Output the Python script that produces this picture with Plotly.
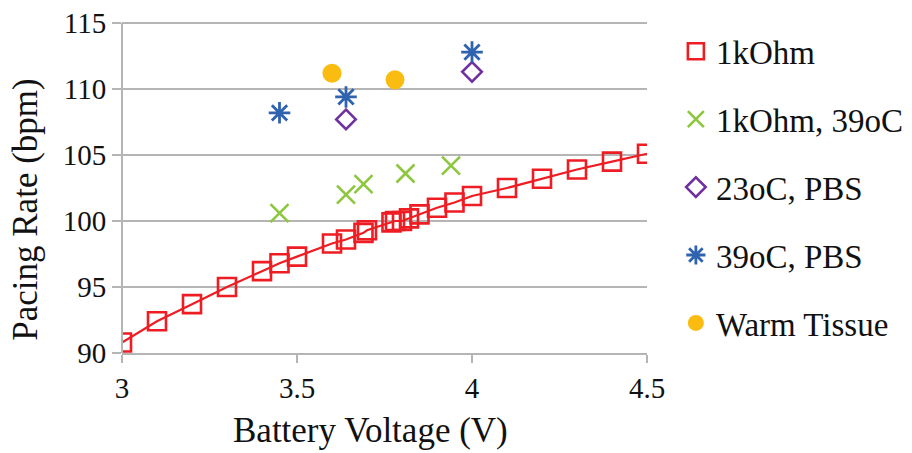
import plotly.graph_objects as go

# 1kOhm (red squares with line)
v_1k = [3.0, 3.1, 3.2, 3.3, 3.4, 3.45, 3.5, 3.6, 3.64, 3.69, 3.7, 3.77, 3.78, 3.8, 3.82, 3.85, 3.9, 3.95, 4.0, 4.1, 4.2, 4.3, 4.4, 4.5]
r_1k = [90.8, 92.4, 93.7, 95.0, 96.2, 96.8, 97.3, 98.3, 98.6, 99.1, 99.3, 99.9, 100.0, 100.0, 100.2, 100.5, 101.0, 101.4, 101.9, 102.5, 103.2, 103.9, 104.5, 105.1]

# 1kOhm, 39oC (green x)
v_1k39 = [3.45, 3.64, 3.69, 3.81, 3.94]
r_1k39 = [100.6, 102.0, 102.8, 103.6, 104.2]

# 23oC, PBS (purple diamonds)
v_23pbs = [3.64, 4.0]
r_23pbs = [107.7, 111.3]

# 39oC, PBS (blue asterisks)
v_39pbs = [3.45, 3.64, 4.0]
r_39pbs = [108.2, 109.4, 112.8]

# Warm Tissue (orange circles)
v_warm = [3.6, 3.78]
r_warm = [111.2, 110.7]

x_ticks = [3, 3.5, 4, 4.5]
y_ticks = [90, 95, 100, 105, 110, 115]

x_title = "Battery Voltage (V)"
y_title = "Pacing Rate (bpm)"

FONT = "'Liberation Serif', 'Times New Roman', 'DejaVu Serif', serif"
RED = "#EE1D23"
GREEN = "#8DC63F"
PURPLE = "#7030A0"
BLUE = "#2F63B0"
GOLD = "#FBBC12"
GRID = "#B5B5B5"
TXT = "#111111"

fig = go.Figure()

fig.add_trace(go.Scatter(
    x=v_1k, y=r_1k, mode="lines", line=dict(color=RED, width=2.2),
    showlegend=False, hoverinfo="skip"))
fig.add_trace(go.Scatter(
    x=v_1k, y=r_1k, mode="markers", name="1kOhm", legendgroup="a",
    marker=dict(symbol="square-open", size=18, color=RED, line=dict(width=2.6, color=RED))))
fig.add_trace(go.Scatter(
    x=v_1k39, y=r_1k39, mode="markers", name="1kOhm, 39oC", legendgroup="b",
    marker=dict(symbol="x-thin-open", size=18, color=GREEN, line=dict(width=2.6, color=GREEN))))
fig.add_trace(go.Scatter(
    x=v_23pbs, y=r_23pbs, mode="markers", name="23oC, PBS", legendgroup="c",
    marker=dict(symbol="diamond-open", size=15, color=PURPLE, line=dict(width=2.6, color=PURPLE))))
fig.add_trace(go.Scatter(
    x=v_39pbs, y=r_39pbs, mode="markers", name="39oC, PBS", legendgroup="d",
    marker=dict(symbol="asterisk-open", size=18, color=BLUE, line=dict(width=2.8, color=BLUE))))
fig.add_trace(go.Scatter(
    x=v_warm, y=r_warm, mode="markers", name="Warm Tissue", legendgroup="e",
    marker=dict(symbol="circle", size=19, color=GOLD)))

fig.update_layout(
    width=912, height=453,
    margin=dict(l=114, r=273, t=12, b=108, autoexpand=False),
    paper_bgcolor="white", plot_bgcolor="white",
    font=dict(family=FONT, size=29, color=TXT),
    legend=dict(
        x=1.055, y=0.99, xanchor="left", yanchor="top",
        font=dict(family=FONT, size=33, color=TXT),
        traceorder="grouped", tracegroupgap=22,
        itemsizing="trace", bgcolor="rgba(0,0,0,0)",
    ),
    xaxis=dict(
        range=[3, 4.5], tickvals=x_ticks, ticktext=[str(t) for t in x_ticks],
        showgrid=False, zeroline=False, automargin=False,
        showline=True, linecolor=GRID, linewidth=2,
        ticks="outside", ticklen=8, tickwidth=2, tickcolor=GRID,
        tickfont=dict(family=FONT, size=29, color=TXT),
        ticklabeloverflow="allow",
    ),
    yaxis=dict(
        range=[90, 115.23], tickvals=y_ticks, ticktext=[str(t) for t in y_ticks],
        showgrid=True, gridcolor=GRID, gridwidth=2, zeroline=False, automargin=False,
        showline=False,
        ticks="outside", ticklen=9, tickwidth=2, tickcolor=GRID,
        tickfont=dict(family=FONT, size=29, color=TXT),
        ticklabeloverflow="allow",
    ),
    shapes=[
        dict(type="line", xref="paper", yref="y", x0=0, x1=0, y0=90, y1=115,
             line=dict(color=GRID, width=2)),
    ],
    annotations=[
        dict(text=x_title, xref="paper", yref="paper", x=0.474, y=-0.233,
             xanchor="center", yanchor="middle", showarrow=False,
             font=dict(family=FONT, size=35, color=TXT)),
        dict(text=y_title, xref="paper", yref="paper", x=-0.183, y=0.43,
             xanchor="center", yanchor="middle", showarrow=False, textangle=-90,
             font=dict(family=FONT, size=35, color=TXT)),
    ],
)

fig.write_html("out.html")
